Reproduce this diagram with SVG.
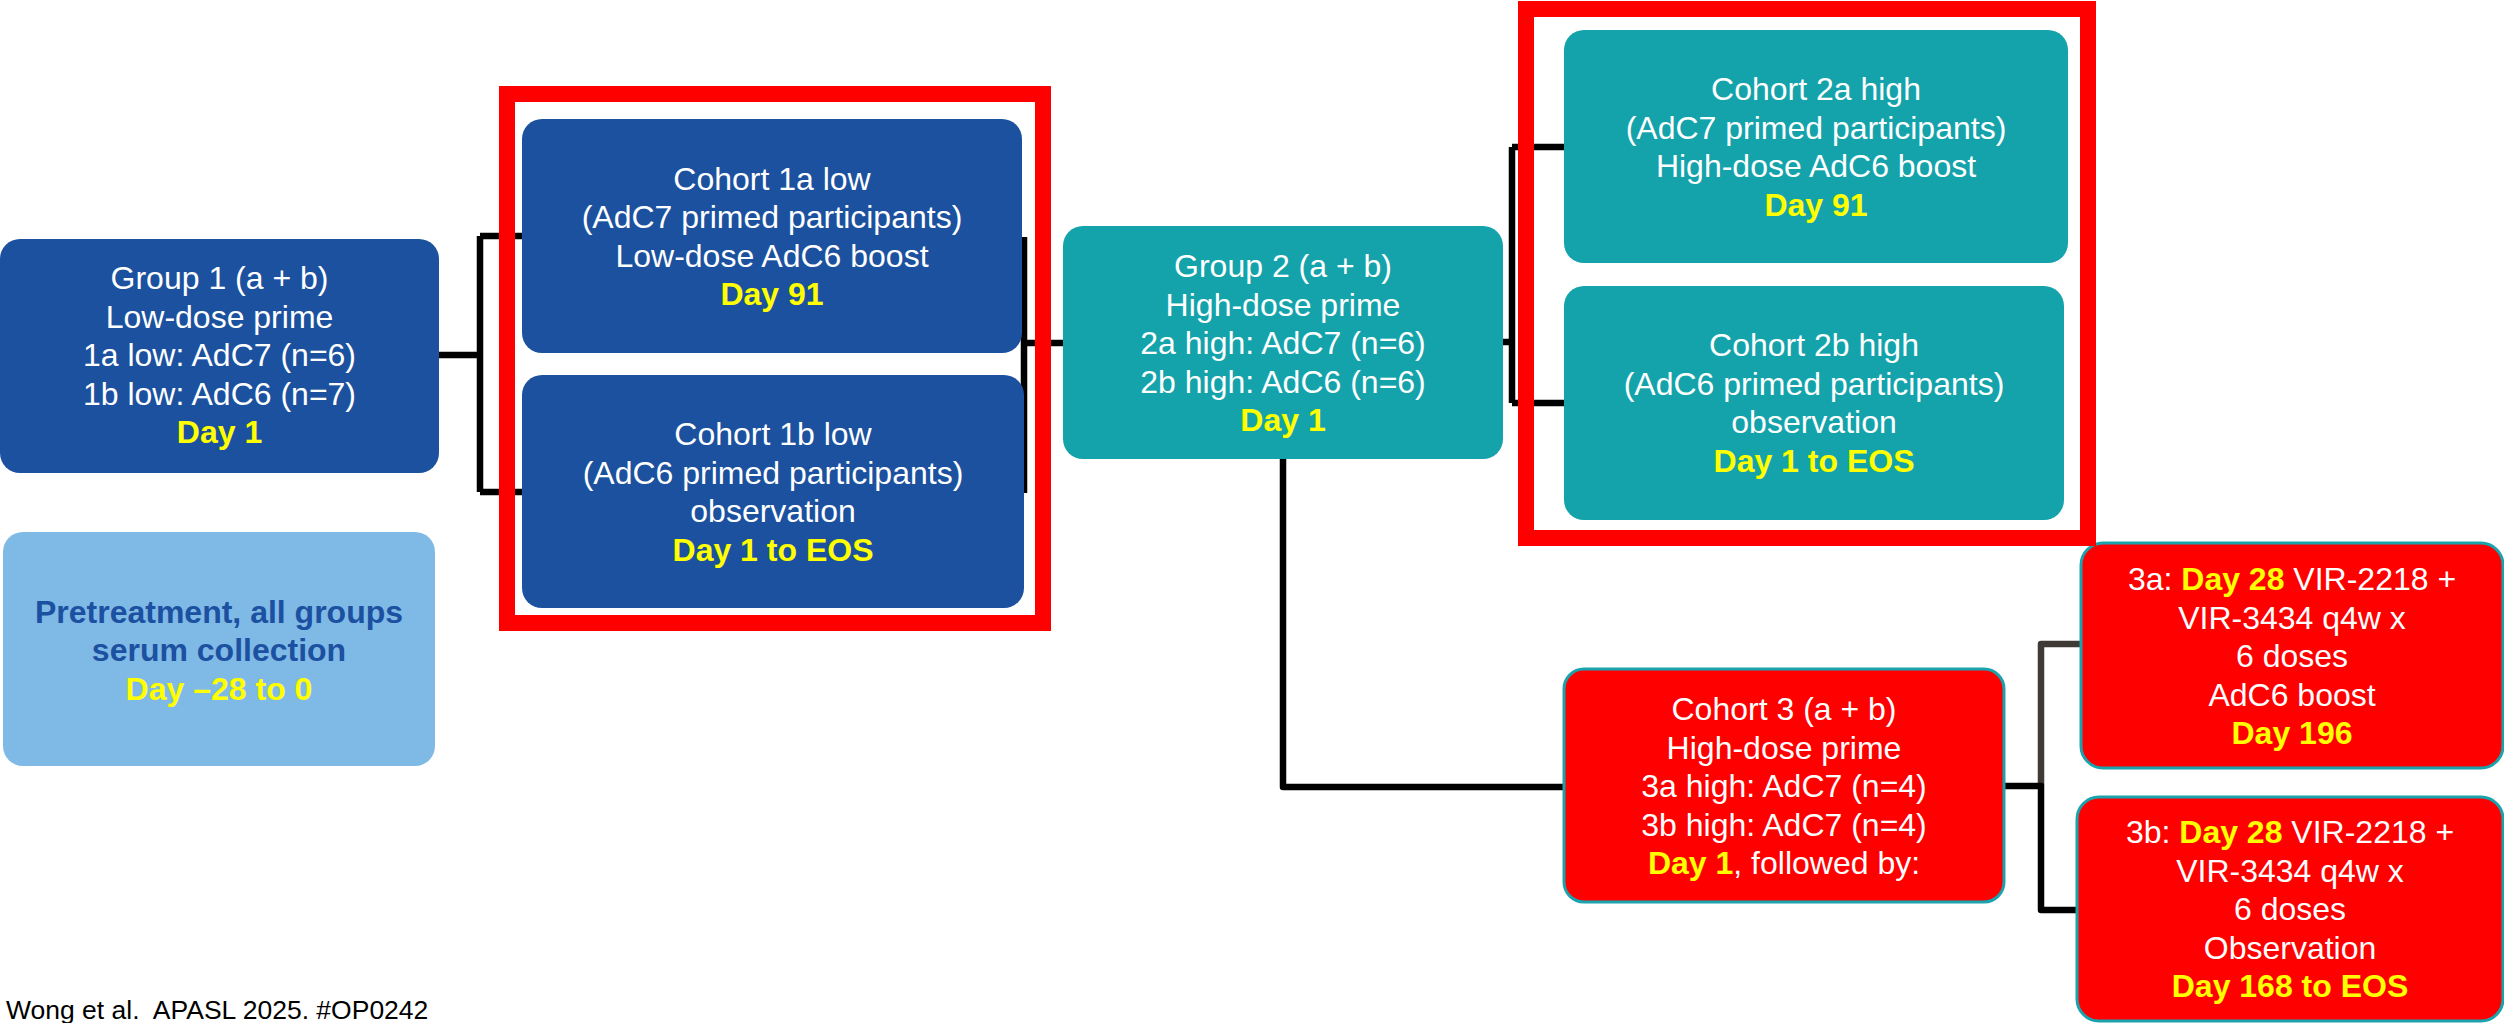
<svg xmlns="http://www.w3.org/2000/svg" width="2504" height="1023" viewBox="0 0 2504 1023">
<style>
text{font-family:"Liberation Sans",Arial,sans-serif;font-size:32px;text-anchor:middle;fill:#fff}
.b{font-weight:bold}
.y{fill:#ffff00;font-weight:bold}
.pt{fill:#1c50a0;font-weight:bold}
.blue{fill:#1b519e}
.teal{fill:#14a3ab}
.light{fill:#7fb9e6}
.red{fill:#ff0000;stroke:#1ba3ad;stroke-width:3}
.frame{fill:none;stroke:#ff0000;stroke-width:16}
.ln{fill:none;stroke:#000;stroke-width:6.5;stroke-linejoin:round}
.lg{fill:none;stroke:#3f3a36;stroke-width:6.5;stroke-linejoin:round}
.foot{font-size:26.5px;text-anchor:start;fill:#000;white-space:pre}
</style>
<rect width="2504" height="1023" fill="#fff"/>
<g id="connectors">
<path class="ln" d="M439,355 H480 M480,236 V492 M480,236 H530 M480,492 H530"/>
<path class="ln" d="M1024,237 V493 M1024,343 H1070"/>
<path class="ln" d="M1503,342 H1512 M1512,147 V403 M1512,147 H1570 M1512,403 H1570"/>
<path class="ln" d="M1283,459 V787 H1570"/>
<path class="lg" d="M2041,786 V644 H2085"/>
<path class="ln" d="M2004,786 H2041 V910 H2080"/>
</g>
<g id="group1">
<rect class="blue" x="0" y="239" width="439" height="234" rx="20"/>
<text x="219.5" y="289">Group 1 (a + b)</text>
<text x="219.5" y="327.5">Low-dose prime</text>
<text x="219.5" y="366">1a low: AdC7 (n=6)</text>
<text x="219.5" y="404.5">1b low: AdC6 (n=7)</text>
<text x="219.5" y="443" class="y">Day 1</text>
</g>
<g id="pretreatment">
<rect class="light" x="3" y="532" width="432" height="234" rx="20"/>
<text x="219" y="622.5" class="pt">Pretreatment, all groups</text>
<text x="219" y="661" class="pt">serum collection</text>
<text x="219" y="699.5" class="y">Day –28 to 0</text>
</g>
<g id="cohort1a">
<rect class="blue" x="522" y="119" width="500" height="234" rx="20"/>
<text x="772" y="189.5">Cohort 1a low</text>
<text x="772" y="228">(AdC7 primed participants)</text>
<text x="772" y="266.5">Low-dose AdC6 boost</text>
<text x="772" y="305" class="y">Day 91</text>
</g>
<g id="cohort1b">
<rect class="blue" x="522" y="375" width="502" height="233" rx="20"/>
<text x="773" y="445">Cohort 1b low</text>
<text x="773" y="483.5">(AdC6 primed participants)</text>
<text x="773" y="522">observation</text>
<text x="773" y="560.5" class="y">Day 1 to EOS</text>
</g>
<g id="group2">
<rect class="teal" x="1063" y="226" width="440" height="233" rx="20"/>
<text x="1283" y="277">Group 2 (a + b)</text>
<text x="1283" y="315.5">High-dose prime</text>
<text x="1283" y="354">2a high: AdC7 (n=6)</text>
<text x="1283" y="392.5">2b high: AdC6 (n=6)</text>
<text x="1283" y="431" class="y">Day 1</text>
</g>
<g id="cohort2a">
<rect class="teal" x="1564" y="30" width="504" height="233" rx="20"/>
<text x="1816" y="100">Cohort 2a high</text>
<text x="1816" y="138.5">(AdC7 primed participants)</text>
<text x="1816" y="177">High-dose AdC6 boost</text>
<text x="1816" y="215.5" class="y">Day 91</text>
</g>
<g id="cohort2b">
<rect class="teal" x="1564" y="286" width="500" height="234" rx="20"/>
<text x="1814" y="356">Cohort 2b high</text>
<text x="1814" y="394.5">(AdC6 primed participants)</text>
<text x="1814" y="433">observation</text>
<text x="1814" y="471.5" class="y">Day 1 to EOS</text>
</g>
<g id="cohort3">
<rect class="red" x="1564" y="669" width="440" height="233" rx="20"/>
<text x="1784" y="720">Cohort 3 (a + b)</text>
<text x="1784" y="758.5">High-dose prime</text>
<text x="1784" y="797">3a high: AdC7 (n=4)</text>
<text x="1784" y="835.5">3b high: AdC7 (n=4)</text>
<text x="1784" y="874"><tspan class="y">Day 1</tspan>, followed by:</text>
</g>
<g id="cohort3a">
<rect class="red" x="2081" y="543" width="422" height="225" rx="22"/>
<text x="2292" y="590">3a: <tspan class="y">Day 28</tspan> VIR-2218 +</text>
<text x="2292" y="628.5">VIR-3434 q4w x</text>
<text x="2292" y="667">6 doses</text>
<text x="2292" y="705.5">AdC6 boost</text>
<text x="2292" y="744" class="y">Day 196</text>
</g>
<g id="cohort3b">
<rect class="red" x="2077" y="797" width="426" height="224" rx="22"/>
<text x="2290" y="843">3b: <tspan class="y">Day 28</tspan> VIR-2218 +</text>
<text x="2290" y="881.5">VIR-3434 q4w x</text>
<text x="2290" y="920">6 doses</text>
<text x="2290" y="958.5">Observation</text>
<text x="2290" y="997" class="y">Day 168 to EOS</text>
</g>
<g id="highlights">
<rect class="frame" x="507" y="94" width="536" height="529"/>
<rect class="frame" x="1526" y="9" width="562" height="529"/>
</g>
<text class="foot" x="6" y="1019" xml:space="preserve">Wong et al.  APASL 2025. #OP0242</text>
</svg>
